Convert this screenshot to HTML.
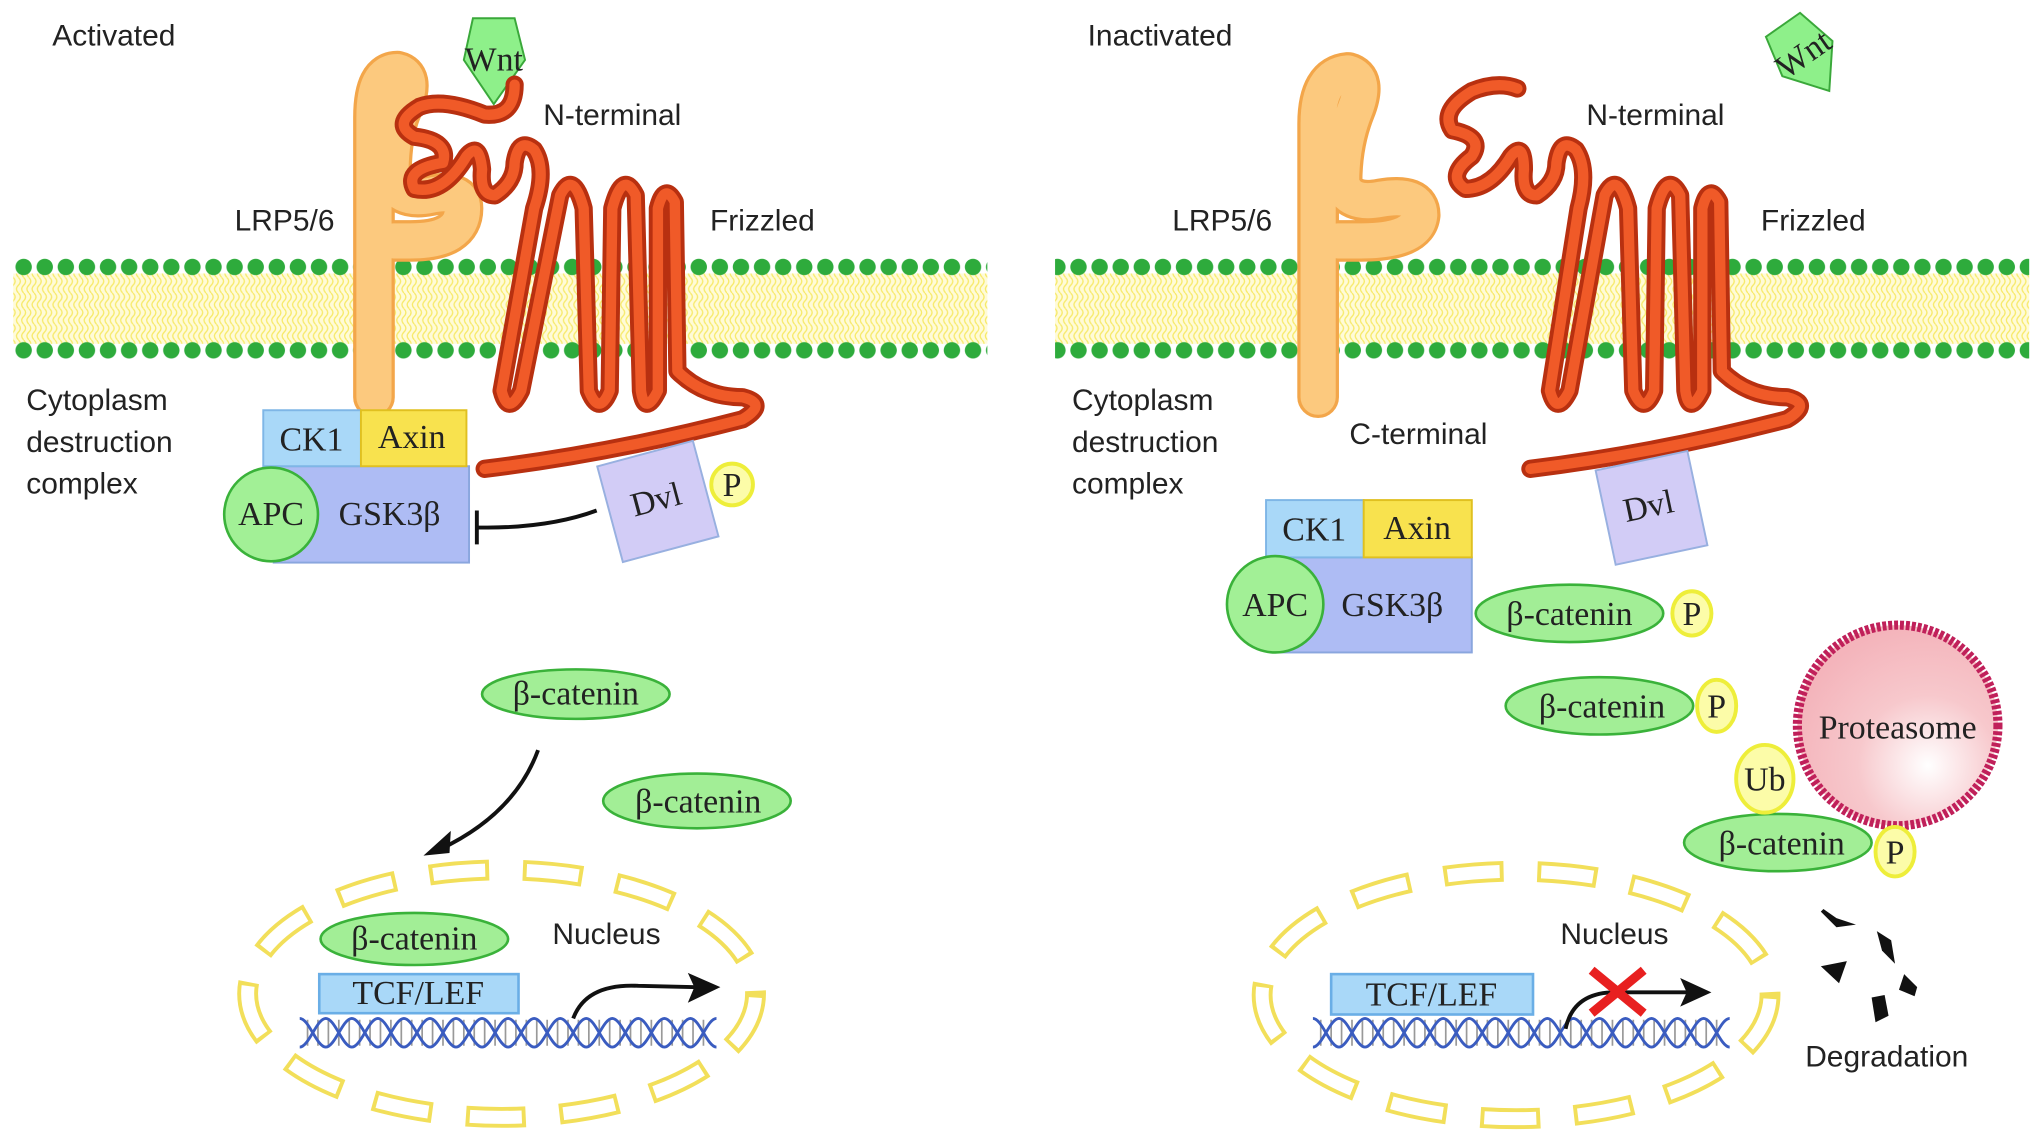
<!DOCTYPE html>
<html><head><meta charset="utf-8"><style>
html,body{margin:0;padding:0;background:#fff;width:2032px;height:1133px;overflow:hidden}
svg{display:block}
.s{font-family:"Liberation Sans",sans-serif;font-size:23px;fill:#222}
.r{font-family:"Liberation Serif",serif;font-size:26px;fill:#222}
</style></head><body>
<svg width="2032" height="1133" viewBox="0 0 1560 870" xmlns="http://www.w3.org/2000/svg">
<defs>
<pattern id="dT" x="10" y="197" width="16.2" height="16" patternUnits="userSpaceOnUse">
<circle cx="8" cy="8" r="6.3" fill="#2eab3c"/></pattern>
<pattern id="dB" x="10" y="261" width="16.2" height="16" patternUnits="userSpaceOnUse">
<circle cx="8" cy="8" r="6.3" fill="#2eab3c"/></pattern>
<pattern id="lip" x="0" y="213" width="8" height="12" patternUnits="userSpaceOnUse">
<path d="M2 0 Q5 3 2 6 Q-1 9 2 12 M6 0 Q9 3 6 6 Q3 9 6 12" stroke="#f3e23a" stroke-width="1" fill="none"/></pattern>
<radialGradient id="prot" cx="0.65" cy="0.7" r="0.7"><stop offset="0" stop-color="#fff"/><stop offset="0.5" stop-color="#f7c8cc"/><stop offset="1" stop-color="#f4b4bb"/></radialGradient>
<g id="dna">
<path stroke="#999" stroke-width="1.3" d="M236 783v20M244 783v20M252 783v20M260 783v20M268 783v20M276 783v20M284 783v20M292 783v20M300 783v20M308 783v20M316 783v20M324 783v20M332 783v20M340 783v20M348 783v20M356 783v20M364 783v20M372 783v20M380 783v20M388 783v20M396 783v20M404 783v20M412 783v20M420 783v20M428 783v20M436 783v20M444 783v20M452 783v20M460 783v20M468 783v20M476 783v20M484 783v20M492 783v20M500 783v20M508 783v20M516 783v20M524 783v20M532 783v20M540 783v20"/>
<path d="M230 782 c7 0 13 22 20 22 c7 0 13 -22 20 -22 c7 0 13 22 20 22 c7 0 13 -22 20 -22 c7 0 13 22 20 22 c7 0 13 -22 20 -22 c7 0 13 22 20 22 c7 0 13 -22 20 -22 c7 0 13 22 20 22 c7 0 13 -22 20 -22 c7 0 13 22 20 22 c7 0 13 -22 20 -22 c7 0 13 22 20 22 c7 0 13 -22 20 -22 c7 0 13 22 20 22 c7 0 13 -22 20 -22" stroke="#3a5cc0" stroke-width="2.2" fill="none"/>
<path d="M230 804 c7 0 13 -22 20 -22 c7 0 13 22 20 22 c7 0 13 -22 20 -22 c7 0 13 22 20 22 c7 0 13 -22 20 -22 c7 0 13 22 20 22 c7 0 13 -22 20 -22 c7 0 13 22 20 22 c7 0 13 -22 20 -22 c7 0 13 22 20 22 c7 0 13 -22 20 -22 c7 0 13 22 20 22 c7 0 13 -22 20 -22 c7 0 13 22 20 22 c7 0 13 -22 20 -22 c7 0 13 22 20 22" stroke="#3a5cc0" stroke-width="2.2" fill="none"/>
</g>
</defs>

<rect x="10" y="210" width="748" height="54" fill="#fffbd8"/>
<rect x="10" y="210" width="748" height="54" fill="url(#lip)" opacity="0.7"/>
<rect x="10" y="197" width="748" height="16" fill="url(#dT)"/>
<rect x="10" y="261" width="748" height="16" fill="url(#dB)"/>
<rect x="810" y="210" width="748" height="54" fill="#fffbd8"/>
<rect x="810" y="210" width="748" height="54" fill="url(#lip)" opacity="0.7"/>
<rect x="810" y="197" width="748" height="16" fill="url(#dT)"/>
<rect x="810" y="261" width="748" height="16" fill="url(#dB)"/>

<g fill="none" stroke-linecap="round" stroke-linejoin="round">
<path d="M287 305 L287 90 Q287 55 305 55 Q318 58 310 80 Q300 100 300 135 Q305 155 330 150 Q355 145 355 160 Q355 185 315 185 L302 185" stroke="#f3a64a" stroke-width="32"/>
<path d="M287 305 L287 90 Q287 55 305 55 Q318 58 310 80 Q300 100 300 135 Q305 155 330 150 Q355 145 355 160 Q355 185 315 185 L302 185" stroke="#fcc97e" stroke-width="27"/>
</g>

<polygon points="363,14 395,14 403,46 379,80 356,46" fill="#8ef08a" stroke="#3aa83a" stroke-width="1.5"/>
<text x="379" y="54" class="r" text-anchor="middle" font-size="24">Wnt</text>

<g fill="none" stroke-linecap="round" stroke-linejoin="round">
<path d="M395 65 Q395 90 372 88 Q340 75 322 82 Q300 95 318 105 Q345 108 340 125 Q310 130 318 145 Q340 150 358 120 Q368 108 370 130 Q368 150 380 150 Q395 140 395 125 Q398 105 410 115 Q420 130 410 160 L385 300 Q390 320 400 300 L430 150 Q440 130 448 160 L452 300 Q460 320 468 300 L470 160 Q478 130 488 150 L492 300 Q495 320 505 300 L505 160 Q510 140 518 155 L520 285 Q540 305 570 305 Q590 310 570 322 Q470 348 372 360" stroke="#b83010" stroke-width="14"/>
<path d="M395 65 Q395 90 372 88 Q340 75 322 82 Q300 95 318 105 Q345 108 340 125 Q310 130 318 145 Q340 150 358 120 Q368 108 370 130 Q368 150 380 150 Q395 140 395 125 Q398 105 410 115 Q420 130 410 160 L385 300 Q390 320 400 300 L430 150 Q440 130 448 160 L452 300 Q460 320 468 300 L470 160 Q478 130 488 150 L492 300 Q495 320 505 300 L505 160 Q510 140 518 155 L520 285 Q540 305 570 305 Q590 310 570 322 Q470 348 372 360" stroke="#f05a28" stroke-width="8"/>
</g>
<text x="417" y="96" class="s">N-terminal</text>
<text x="180" y="177" class="s">LRP5/6</text>
<text x="545" y="177" class="s">Frizzled</text>
<text x="40" y="35" class="s">Activated</text>
<text x="20" y="315" class="s">Cytoplasm</text>
<text x="20" y="347" class="s">destruction</text>
<text x="20" y="379" class="s">complex</text>

<rect x="210" y="358" width="150" height="74" fill="#aebcf4" stroke="#8aa6de" stroke-width="1.5"/>
<rect x="202" y="315" width="75" height="43" fill="#a9d8f8" stroke="#7fb6e6" stroke-width="1.5"/>
<rect x="277" y="315" width="81" height="43" fill="#f8e24e" stroke="#e0c020" stroke-width="1.5"/>
<circle cx="208" cy="395" r="36" fill="#a2f096" stroke="#3ab23a" stroke-width="2"/>
<text x="239" y="346" class="r" text-anchor="middle">CK1</text>
<text x="316" y="344" class="r" text-anchor="middle">Axin</text>
<text x="208" y="403" class="r" text-anchor="middle">APC</text>
<text x="299" y="403" class="r" text-anchor="middle">GSK3β</text>

<g transform="rotate(-15 505 385)"><rect x="467" y="347" width="76" height="76" fill="#d2ccf6" stroke="#98b0e0" stroke-width="1.5"/></g>
<text x="504" y="392" class="r" text-anchor="middle" transform="rotate(-15 504 385)">Dvl</text>
<circle cx="562" cy="372" r="16" fill="#fcfca8" stroke="#eeee3a" stroke-width="3"/>
<text x="562" y="381" class="r" text-anchor="middle" font-size="23">P</text>
<path d="M458 392 Q420 406 367 405 M366 392 L366 418" stroke="#111" stroke-width="3" fill="none"/>

<g fill="#a2ee96" stroke="#3ab23a" stroke-width="2">
<ellipse cx="442" cy="533" rx="72" ry="19"/>
<ellipse cx="535" cy="615" rx="72" ry="21"/>
<ellipse cx="318" cy="721" rx="72" ry="20"/>
</g>
<text x="442" y="541" class="r" text-anchor="middle">β-catenin</text>
<text x="536" y="624" class="r" text-anchor="middle">β-catenin</text>
<text x="318" y="729" class="r" text-anchor="middle">β-catenin</text>
<path d="M413 576 Q395 625 338 652" stroke="#111" stroke-width="3" fill="none"/>
<polygon points="325,657 346,638 345,655" fill="#111"/>

<g fill="none">
<ellipse cx="385" cy="763" rx="195" ry="95" stroke="#f2df5a" stroke-width="16" stroke-dasharray="46 26"/>
<ellipse cx="385" cy="763" rx="195" ry="95" stroke="#fff" stroke-width="10" stroke-dasharray="40 32" stroke-dashoffset="-3"/>
</g>
<text x="424" y="725" class="s">Nucleus</text>
<rect x="245" y="748" width="153" height="30" fill="#a9d8f8" stroke="#6aaee6" stroke-width="2"/>
<text x="321" y="771" class="r" text-anchor="middle">TCF/LEF</text>
<use href="#dna"/>
<path d="M440 782 Q450 755 490 757 L535 758" stroke="#111" stroke-width="3" fill="none"/>
<polygon points="553,758 528,747 533,758 528,770" fill="#111"/>

<g fill="none" stroke-linecap="round" stroke-linejoin="round">
<path d="M1012 305 L1012 95 Q1012 58 1035 56 Q1050 60 1040 85 Q1030 110 1030 140 Q1035 158 1060 153 Q1090 148 1090 165 Q1088 185 1045 185 L1027 185" stroke="#f3a64a" stroke-width="32"/>
<path d="M1012 305 L1012 95 Q1012 58 1035 56 Q1050 60 1040 85 Q1030 110 1030 140 Q1035 158 1060 153 Q1090 148 1090 165 Q1088 185 1045 185 L1027 185" stroke="#fcc97e" stroke-width="27"/>
</g>
<g transform="rotate(-35 1385 42)"><polygon points="1369,14 1401,14 1409,46 1385,76 1362,46" fill="#8ef08a" stroke="#3aa83a" stroke-width="1.5"/>
<text x="1385" y="50" class="r" text-anchor="middle" font-size="22">Wnt</text></g>
<g fill="none" stroke-linecap="round" stroke-linejoin="round">
<path d="M1165 68 Q1150 62 1130 70 Q1105 85 1115 100 Q1140 105 1130 120 Q1110 135 1125 145 Q1145 145 1160 120 Q1170 108 1170 130 Q1168 150 1180 150 Q1195 140 1195 125 Q1198 105 1210 115 Q1220 130 1212 160 L1190 300 Q1195 320 1205 300 L1232 150 Q1242 130 1250 160 L1254 300 Q1262 320 1270 300 L1272 160 Q1280 130 1290 150 L1294 300 Q1297 320 1307 300 L1307 160 Q1312 140 1320 155 L1322 285 Q1342 305 1372 305 Q1392 310 1372 322 Q1272 348 1175 360" stroke="#b83010" stroke-width="14"/>
<path d="M1165 68 Q1150 62 1130 70 Q1105 85 1115 100 Q1140 105 1130 120 Q1110 135 1125 145 Q1145 145 1160 120 Q1170 108 1170 130 Q1168 150 1180 150 Q1195 140 1195 125 Q1198 105 1210 115 Q1220 130 1212 160 L1190 300 Q1195 320 1205 300 L1232 150 Q1242 130 1250 160 L1254 300 Q1262 320 1270 300 L1272 160 Q1280 130 1290 150 L1294 300 Q1297 320 1307 300 L1307 160 Q1312 140 1320 155 L1322 285 Q1342 305 1372 305 Q1392 310 1372 322 Q1272 348 1175 360" stroke="#f05a28" stroke-width="8"/>
</g>
<text x="1218" y="96" class="s">N-terminal</text>
<text x="900" y="177" class="s">LRP5/6</text>
<text x="1352" y="177" class="s">Frizzled</text>
<text x="835" y="35" class="s">Inactivated</text>
<text x="823" y="315" class="s">Cytoplasm</text>
<text x="823" y="347" class="s">destruction</text>
<text x="823" y="379" class="s">complex</text>
<text x="1036" y="341" class="s">C-terminal</text>

<rect x="980" y="428" width="150" height="73" fill="#aebcf4" stroke="#8aa6de" stroke-width="1.5"/>
<rect x="972" y="384" width="75" height="44" fill="#a9d8f8" stroke="#7fb6e6" stroke-width="1.5"/>
<rect x="1047" y="384" width="83" height="44" fill="#f8e24e" stroke="#e0c020" stroke-width="1.5"/>
<circle cx="979" cy="464" r="37" fill="#a2f096" stroke="#3ab23a" stroke-width="2"/>
<text x="1009" y="415" class="r" text-anchor="middle">CK1</text>
<text x="1088" y="414" class="r" text-anchor="middle">Axin</text>
<text x="979" y="473" class="r" text-anchor="middle">APC</text>
<text x="1069" y="473" class="r" text-anchor="middle">GSK3β</text>

<g transform="rotate(-12 1268 390)"><rect x="1232" y="353" width="72" height="74" fill="#d2ccf6" stroke="#98b0e0" stroke-width="1.5"/></g>
<text x="1266" y="397" class="r" text-anchor="middle" transform="rotate(-12 1266 390)">Dvl</text>

<circle cx="1457" cy="557" r="77" fill="url(#prot)" stroke="#c0205a" stroke-width="7" stroke-dasharray="3 1.5"/>
<text x="1457" y="567" class="r" text-anchor="middle" font-size="25">Proteasome</text>

<g fill="#a2ee96" stroke="#3ab23a" stroke-width="2">
<ellipse cx="1205" cy="471" rx="72" ry="22"/>
<ellipse cx="1228" cy="542" rx="72" ry="22"/>
<ellipse cx="1365" cy="647" rx="72" ry="22"/>
</g>
<text x="1205" y="480" class="r" text-anchor="middle">β-catenin</text>
<text x="1230" y="551" class="r" text-anchor="middle">β-catenin</text>
<text x="1368" y="656" class="r" text-anchor="middle">β-catenin</text>
<g fill="#fcfca8" stroke="#eeee3a" stroke-width="3">
<ellipse cx="1299" cy="471" rx="15" ry="17"/>
<ellipse cx="1318" cy="542" rx="15" ry="20"/>
<ellipse cx="1455" cy="654" rx="15" ry="19"/>
<ellipse cx="1355" cy="598" rx="22" ry="26"/>
</g>
<text x="1299" y="480" class="r" text-anchor="middle" font-size="23">P</text>
<text x="1318" y="551" class="r" text-anchor="middle" font-size="23">P</text>
<text x="1455" y="663" class="r" text-anchor="middle" font-size="23">P</text>
<text x="1355" y="607" class="r" text-anchor="middle" font-size="25">Ub</text>

<g fill="none">
<ellipse cx="1164" cy="764" rx="195" ry="95" stroke="#f2df5a" stroke-width="16" stroke-dasharray="46 26"/>
<ellipse cx="1164" cy="764" rx="195" ry="95" stroke="#fff" stroke-width="10" stroke-dasharray="40 32" stroke-dashoffset="-3"/>
</g>
<text x="1198" y="725" class="s">Nucleus</text>
<rect x="1022" y="748" width="155" height="31" fill="#a9d8f8" stroke="#6aaee6" stroke-width="2"/>
<text x="1099" y="772" class="r" text-anchor="middle">TCF/LEF</text>
<use href="#dna" transform="translate(778,0)"/>
<path d="M1202 790 Q1208 762 1240 762 L1298 762" stroke="#111" stroke-width="3" fill="none"/>
<polygon points="1314,762 1290,751 1295,762 1290,773" fill="#111"/>
<path d="M1222 745 L1262 778 M1262 745 L1222 778" stroke="#e82020" stroke-width="7"/>

<g fill="#111">
<polygon points="1398,700 1410,712 1425,710 1410,705 1400,698"/>
<polygon points="1441,715 1452,722 1455,740 1445,730"/>
<polygon points="1398,742 1418,738 1412,755"/>
<polygon points="1462,748 1472,758 1470,765 1458,760"/>
<polygon points="1437,766 1447,764 1450,780 1440,785"/>
</g>
<text x="1386" y="819" class="s">Degradation</text>
</svg>
</body></html>
